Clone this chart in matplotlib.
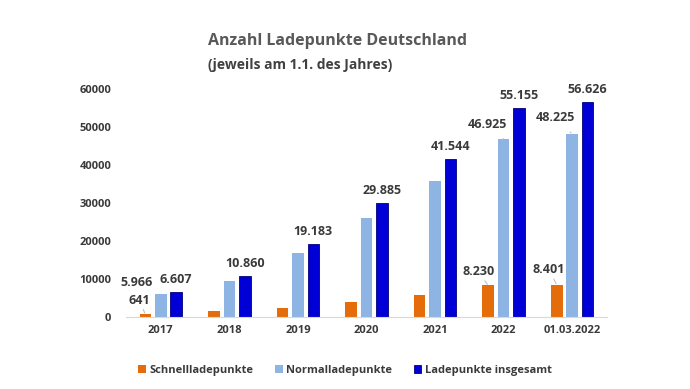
import matplotlib.pyplot as plt
import numpy as np

plt.rcParams['font.family'] = ['Open Sans', 'DejaVu Sans']

# data
kategorien = ['2017', '2018', '2019', '2020', '2021', '2022', '01.03.2022']
schnell = [641, 1400, 2400, 3800, 5800, 8230, 8401]
normal = [5966, 9460, 16780, 26085, 35744, 46925, 48225]
gesamt = [6607, 10860, 19183, 29885, 41544, 55155, 56626]
yticks = [0, 10000, 20000, 30000, 40000, 50000, 60000]

c_schnell = '#E46C0A'
c_normal = '#8DB4E2'
c_gesamt = '#0000D6'
txt = '#3A3A3A'

fig = plt.figure(figsize=(6.9, 3.89), dpi=100)
ax = fig.add_axes([0.1833, 0.1859, 0.6957, 0.5846])

x = np.arange(len(kategorien))
w = 0.17
off = 0.225
b1 = ax.bar(x - off, schnell, w, color=c_schnell, label='Schnellladepunkte')
b2 = ax.bar(x, normal, w, color=c_normal, label='Normalladepunkte')
b3 = ax.bar(x + off, gesamt, w, color=c_gesamt, edgecolor='#00007A', linewidth=0.6,
            label='Ladepunkte insgesamt')

ax.set_xlim(-0.5, len(kategorien) - 0.5)
ax.set_ylim(0, 60000)
ax.set_yticks(yticks)
ax.set_yticklabels([str(t) for t in yticks])
ax.set_xticks(x)
ax.set_xticklabels(kategorien)
for s in ['top', 'right', 'left']:
    ax.spines[s].set_visible(False)
ax.spines['bottom'].set_color('#D9D9D9')
ax.tick_params(axis='both', length=0, labelsize=8, labelcolor=txt)
ax.tick_params(axis='y', pad=11)
ax.tick_params(axis='x', pad=6)
for lbl in ax.get_xticklabels() + ax.get_yticklabels():
    lbl.set_fontweight('bold')

def fmt(v):
    return f'{v:,}'.replace(',', '.')

# labels over the total bars
for xi, v in zip(x, gesamt):
    ax.annotate(fmt(v), (xi + off, v), xytext=(0, 6), textcoords='offset pixels',
                ha='center', va='bottom', fontsize=9, fontweight='bold', color=txt)

# labels with leader lines (offset in pixels)
extra = [
    (0 - off, schnell[0], -6, 14, True),
    (0, normal[0], -24, 12, False),
    (5, normal[5], -16, 14, True),
    (6, normal[6], -17, 16, True),
    (5 - off, schnell[5], -10, 14, True),
    (6 - off, schnell[6], -8, 15, True),
]
for xi, v, dx, dy, line in extra:
    ap = dict(arrowstyle='-', color='#BFBFBF', lw=0.8, shrinkA=5, shrinkB=1) if line else None
    ax.annotate(fmt(v), (xi, v), xytext=(dx, dy), textcoords='offset pixels',
                ha='center', va='center', fontsize=9, fontweight='bold', color=txt,
                arrowprops=ap)

fig.text(0.302, 0.895, 'Anzahl Ladepunkte Deutschland', fontsize=11.5, fontweight='bold',
         color='#595959', ha='left', va='center')
fig.text(0.302, 0.833, '(jeweils am 1.1. des Jahres)', fontsize=10, fontweight='bold',
         color='#404040', ha='left', va='center')

leg = fig.legend(handles=[b1, b2, b3], loc='center', bbox_to_anchor=(0.5, 0.047), ncol=3,
                 frameon=False, handlelength=0.7, handleheight=0.7, handletextpad=0.35,
                 columnspacing=1.9, fontsize=8)
for t in leg.get_texts():
    t.set_fontweight('bold')
    t.set_color(txt)

fig.savefig('out.png', dpi=100)
